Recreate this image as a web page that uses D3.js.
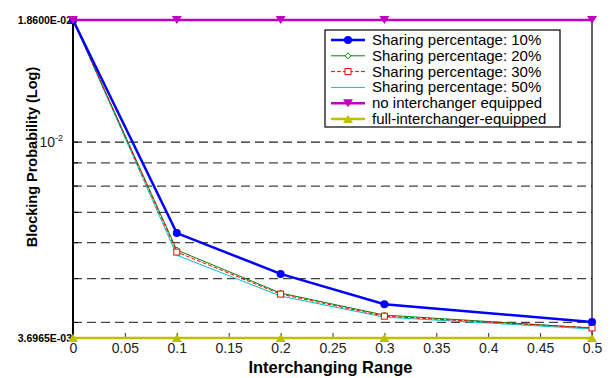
<!DOCTYPE html>
<html>
<head>
<meta charset="utf-8">
<script src="https://cdn.jsdelivr.net/npm/d3@7"></script>
<style>
  body { margin: 0; background: #fff; }
  text { font-family: "Liberation Sans", Arial, sans-serif; }
</style>
</head>
<body>
<div id="plot"></div>
<script>
// data
var ranges = [0, 0.1, 0.2, 0.3, 0.5];
var share10 = [1.86e-2, 6.30e-3, 5.12e-3, 4.39e-3, 4.01e-3];
var share20 = [1.86e-2, 5.78e-3, 4.645e-3, 4.153e-3, 3.89e-3];
var share30 = [1.86e-2, 5.72e-3, 4.62e-3, 4.13e-3, 3.89e-3];
var share50 = [1.86e-2, 5.63e-3, 4.575e-3, 4.11e-3, 3.87e-3];
var noInter = [1.86e-2, 1.86e-2, 1.86e-2, 1.86e-2, 1.86e-2];
var fullInter = [3.6965e-3, 3.6965e-3, 3.6965e-3, 3.6965e-3, 3.6965e-3];
var xTicks = [0, 0.05, 0.1, 0.15, 0.2, 0.25, 0.3, 0.35, 0.4, 0.45, 0.5];
var gridVals = [1e-2, 9e-3, 8e-3, 7e-3, 6e-3, 5e-3, 4e-3];
var yMin = 3.6965e-3, yMax = 1.86e-2;

var margin = { top: 20, right: 21, bottom: 40, left: 73 },
  width = 613 - margin.left - margin.right,
  height = 378 - margin.top - margin.bottom;

var svg = d3.select("#plot")
  .append("svg")
  .attr("width", 613)
  .attr("height", 378)
  .append("g")
  .attr("transform", "translate(" + margin.left + "," + margin.top + ")");

var x = d3.scaleLinear().domain([0, 0.5]).range([0, width]);
var y = d3.scaleLog().domain([yMin, yMax]).range([height, 0]);

// dashed grid
svg.append("g")
  .selectAll("line")
  .data(gridVals)
  .enter()
  .append("line")
  .attr("x1", 0)
  .attr("x2", width)
  .attr("y1", function (d) { return y(d); })
  .attr("y2", function (d) { return y(d); })
  .attr("stroke", function (d) { return d == 1e-2 ? "#222" : "#444"; })
  .attr("stroke-width", 1.2)
  .attr("stroke-dasharray", "9,5");

// frame
svg.append("rect")
  .attr("width", width)
  .attr("height", height)
  .attr("fill", "none")
  .attr("stroke", "black")
  .attr("stroke-width", 1.2);
svg.append("line")
  .attr("x1", 0).attr("x2", 0).attr("y1", 0).attr("y2", height)
  .attr("stroke", "black").attr("stroke-width", 2);

// x axis, ticks pointing in
var xAxis = svg.append("g")
  .attr("transform", "translate(0," + height + ")")
  .call(d3.axisBottom(x).tickValues(xTicks).tickSize(-5).tickPadding(5)
    .tickFormat(function (d) { return d3.format("")(d); }));
xAxis.select(".domain").remove();
xAxis.selectAll("text").style("font-size", "14px").attr("fill", "#222");
xAxis.selectAll("line").attr("stroke", "#333");

// y minor ticks
svg.append("g")
  .selectAll("line")
  .data(gridVals)
  .enter()
  .append("line")
  .attr("x1", 0).attr("x2", 5)
  .attr("y1", function (d) { return y(d); })
  .attr("y2", function (d) { return y(d); })
  .attr("stroke", "black");

// y labels
svg.append("text")
  .attr("x", -1).attr("y", y(yMax) + 4)
  .attr("text-anchor", "end")
  .style("font-size", "10.5px").style("font-weight", "bold")
  .text("1.8600E-02");
svg.append("text")
  .attr("x", -1).attr("y", y(yMin) + 4)
  .attr("text-anchor", "end")
  .style("font-size", "10.5px").style("font-weight", "bold")
  .text("3.6965E-03");
var t10 = svg.append("text")
  .attr("x", -10).attr("y", y(1e-2) + 5)
  .attr("text-anchor", "end")
  .style("font-size", "14px").attr("fill", "#222");
t10.append("tspan").text("10");
t10.append("tspan").attr("dy", -6).style("font-size", "9px").text("-2");

// axis titles
svg.append("text")
  .attr("transform", "translate(-36,137) rotate(-90)")
  .attr("text-anchor", "middle")
  .style("font-size", "14.5px").style("font-weight", "bold")
  .text("Blocking Probability (Log)");
svg.append("text")
  .attr("x", width / 2 - 2).attr("y", height + 35)
  .attr("text-anchor", "middle")
  .style("font-size", "16.5px").style("font-weight", "bold")
  .text("Interchanging Range");

var series = [
  { name: "Sharing percentage: 10%", vals: share10, color: "#0000ff", w: 2.5, dash: null, mark: "circle" },
  { name: "Sharing percentage: 20%", vals: share20, color: "#008000", w: 1, dash: null, mark: "diamond" },
  { name: "Sharing percentage: 30%", vals: share30, color: "#ff0000", w: 1, dash: "4,2", mark: "square" },
  { name: "Sharing percentage: 50%", vals: share50, color: "#00c0c0", w: 1, dash: null, mark: null },
  { name: "no interchanger equipped", vals: noInter, color: "#c000c0", w: 2.5, dash: null, mark: "down" },
  { name: "full-interchanger-equipped", vals: fullInter, color: "#bfbf00", w: 2.5, dash: null, mark: "up" }
];

var line = d3.line()
  .x(function (d) { return x(d.x); })
  .y(function (d) { return y(d.y); });

function drawMark(g, s, cx, cy) {
  if (s.mark == "circle") {
    g.append("circle").attr("cx", cx).attr("cy", cy).attr("r", 4).attr("fill", s.color);
  } else if (s.mark == "diamond") {
    g.append("path").attr("d", "M" + cx + "," + (cy - 3) + "L" + (cx + 3) + "," + cy + "L" + cx + "," + (cy + 3) + "L" + (cx - 3) + "," + cy + "Z")
      .attr("fill", "white").attr("stroke", s.color);
  } else if (s.mark == "square") {
    g.append("rect").attr("x", cx - 3).attr("y", cy - 3).attr("width", 6).attr("height", 6)
      .attr("fill", "white").attr("stroke", s.color);
  } else if (s.mark == "down") {
    g.append("path").attr("d", "M" + (cx - 5) + "," + (cy - 4) + "L" + (cx + 5) + "," + (cy - 4) + "L" + cx + "," + (cy + 4) + "Z")
      .attr("fill", s.color);
  } else if (s.mark == "up") {
    g.append("path").attr("d", "M" + (cx - 5) + "," + (cy + 4) + "L" + (cx + 5) + "," + (cy + 4) + "L" + cx + "," + (cy - 4) + "Z")
      .attr("fill", s.color);
  }
}

// draw back to front so blue sits on top of the thin ones
[3, 1, 2, 0, 4, 5].forEach(function (i) {
  var s = series[i];
  var pts = ranges.map(function (r, j) { return { x: r, y: s.vals[j] }; });
  var g = svg.append("g");
  g.append("path")
    .datum(pts)
    .attr("d", line)
    .attr("fill", "none")
    .attr("stroke", s.color)
    .attr("stroke-width", s.w)
    .attr("stroke-dasharray", s.dash);
  pts.forEach(function (p) { drawMark(g, s, x(p.x), y(p.y)); });
});

// legend
var lg = svg.append("g").attr("transform", "translate(252,10)");
lg.append("rect")
  .attr("width", 235).attr("height", 97)
  .attr("fill", "white").attr("stroke", "black").attr("stroke-width", 1.2);
series.forEach(function (s, i) {
  var ly = 10 + i * 15.8;
  lg.append("line")
    .attr("x1", 6).attr("x2", 40).attr("y1", ly).attr("y2", ly)
    .attr("stroke", s.color).attr("stroke-width", s.w)
    .attr("stroke-dasharray", s.dash);
  drawMark(lg, s, 23, ly);
  lg.append("text")
    .attr("x", 47).attr("y", ly + 5)
    .style("font-size", "15px")
    .text(s.name);
});
</script>
</body>
</html>
